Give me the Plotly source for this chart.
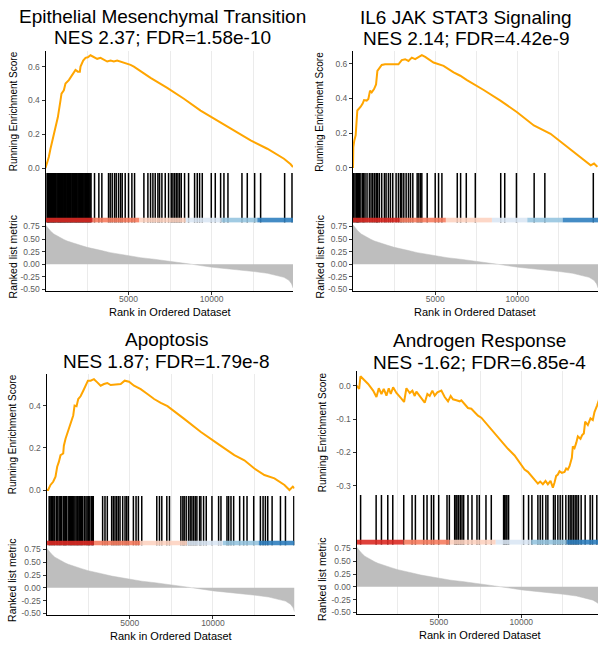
import plotly.graph_objects as go

W, H = 598, 649

titles_line1 = ["Epithelial Mesenchymal Transition", "IL6 JAK STAT3 Signaling",
                "Apoptosis", "Androgen Response"]
titles_line2 = ["NES 2.37; FDR=1.58e-10", "NES 2.14; FDR=4.42e-9",
                "NES 1.87; FDR=1.79e-8", "NES -1.62; FDR=6.85e-4"]

# ranked list metric (shared by all panels)
metric_rank = [1, 161, 301, 502, 703, 904, 1105, 1305, 1707, 2109, 2510, 2912, 3313, 3916,
               4518, 5020, 5723, 6526, 7530, 8434, 8936, 10040, 11345, 12550, 13353, 13956,
               14357, 14658, 14819, 14900]
metric_value = [0.78, 0.71, 0.66, 0.60, 0.56, 0.52, 0.49, 0.46, 0.41, 0.375, 0.335, 0.30, 0.276,
                0.23, 0.197, 0.164, 0.13, 0.10, 0.06, 0.02, -0.007, -0.06, -0.10, -0.145, -0.18,
                -0.22, -0.26, -0.32, -0.39, -0.47]

# running enrichment scores
es_emt_rank = [1, 201, 301, 402, 502, 602, 743, 904, 964, 1105, 1205, 1406, 1606, 1807, 1948, 2068,
               2109, 2270, 2410, 2550, 2711, 2912, 3112, 3313, 3514, 3715, 3916, 4116, 4317, 4518,
               4719, 4920, 5120, 5321, 5522, 6325, 7329, 8333, 9337, 10341, 11345, 12349, 13353,
               14357, 14759, 14900]
es_emt_score = [0.0, 0.065, 0.114, 0.154, 0.193, 0.232, 0.30, 0.40, 0.44, 0.46, 0.50, 0.52, 0.55,
                0.58, 0.57, 0.57, 0.60, 0.636, 0.652, 0.655, 0.667, 0.655, 0.646, 0.652, 0.64, 0.63,
                0.636, 0.63, 0.636, 0.63, 0.62, 0.616, 0.61, 0.60, 0.587, 0.533, 0.474, 0.41, 0.34,
                0.28, 0.22, 0.163, 0.114, 0.055, 0.022, 0.006]

es_il6_rank = [1, 20, 81, 163, 264, 386, 468, 589, 671, 833, 935, 1037, 1138, 1281, 1403, 1484,
               1606, 1748, 1951, 2256, 2561, 2764, 2967, 3171, 3374, 3577, 3781, 3984, 4187, 4390,
               4594, 4899, 5509, 6118, 6525, 6932, 7948, 8965, 9981, 10998, 12014, 13031, 14047,
               14454, 14657, 14860]
es_il6_score = [0.0, 0.12, 0.158, 0.187, 0.33, 0.34, 0.352, 0.37, 0.39, 0.387, 0.396, 0.444, 0.434,
                0.453, 0.48, 0.558, 0.577, 0.592, 0.596, 0.596, 0.592, 0.596, 0.62, 0.625, 0.615,
                0.634, 0.625, 0.638, 0.648, 0.638, 0.625, 0.606, 0.587, 0.549, 0.53, 0.505, 0.448,
                0.387, 0.32, 0.244, 0.196, 0.12, 0.044, 0.015, 0.025, 0.006]

es_apo_rank = [1, 100, 241, 402, 542, 643, 743, 843, 1004, 1044, 1145, 1245, 1406, 1506, 1606, 1687,
               1807, 1908, 2048, 2209, 2349, 2490, 2651, 2851, 3052, 3253, 3454, 3655, 3855, 4157,
               4458, 4699, 4960, 5261, 5662, 6064, 6466, 6867, 7269, 8273, 9277, 10281, 11285,
               11888, 12490, 13092, 13695, 14297, 14598, 14799, 14900]
es_apo_score = [0.0, 0.0, 0.024, 0.039, 0.063, 0.11, 0.133, 0.165, 0.173, 0.21, 0.243, 0.267, 0.306,
                0.337, 0.353, 0.40, 0.397, 0.431, 0.444, 0.47, 0.494, 0.518, 0.518, 0.525, 0.51,
                0.494, 0.502, 0.507, 0.497, 0.499, 0.502, 0.518, 0.513, 0.494, 0.478, 0.455, 0.431,
                0.413, 0.397, 0.337, 0.275, 0.22, 0.165, 0.141, 0.102, 0.071, 0.055, 0.024, 0.0,
                0.016, 0.008]

es_and_rank = [1, 101, 161, 242, 404, 707, 1010, 1212, 1353, 1515, 1656, 1818, 1959, 2080, 2222,
               2424, 2727, 2888, 3030, 3232, 3393, 3535, 3636, 3777, 3939, 4141, 4302, 4444, 4605,
               4747, 4909, 5151, 5353, 5555, 5716, 5858, 6060, 6262, 6363, 6565, 6767, 6969, 7171,
               7373, 7575, 7777, 8080, 8383, 8787, 9191, 9595, 9999, 10201, 10403, 10605, 10807,
               11009, 11150, 11312, 11474, 11615, 11777, 11918, 12019, 12120, 12221, 12322, 12464,
               12625, 12726, 12827, 12928, 13070, 13130, 13231, 13332, 13433, 13595, 13696, 13797,
               13878, 14039, 14201, 14342, 14443, 14605, 14706, 14900]
es_and_score = [0.0, -0.005, -0.01, 0.028, 0.02, 0.005, -0.015, -0.034, -0.008, -0.025, -0.01, -0.03,
                -0.008, -0.025, -0.005, -0.022, -0.039, -0.049, -0.008, -0.022, -0.015, -0.031,
                -0.018, -0.028, -0.039, -0.051, -0.025, -0.031, -0.015, -0.03, -0.02, -0.015,
                -0.034, -0.047, -0.031, -0.041, -0.044, -0.047, -0.044, -0.057, -0.067, -0.069,
                -0.079, -0.09, -0.096, -0.108, -0.126, -0.143, -0.165, -0.189, -0.209, -0.236,
                -0.251, -0.258, -0.27, -0.28, -0.293, -0.287, -0.295, -0.285, -0.295, -0.285,
                -0.305, -0.29, -0.27, -0.266, -0.256, -0.261, -0.258, -0.248, -0.251, -0.241,
                -0.216, -0.182, -0.187, -0.172, -0.152, -0.159, -0.148, -0.143, -0.108, -0.118,
                -0.098, -0.103, -0.079, -0.059, -0.044, 0.0]

# gene-set hit positions
hits_emt = [95, 135, 170, 210, 245, 292, 338, 377, 430, 462, 505, 548, 596, 641, 702, 748, 795,
            833, 884, 921, 968, 1012, 1063, 1108, 1152, 1199, 1247, 1303, 1342, 1398, 1447, 1503,
            1538, 1594, 1642, 1703, 1757, 1812, 1858, 1907, 1963, 2008, 2061, 2113, 2162, 2218,
            2263, 2312, 2368, 2421, 2473, 2527, 2583, 2631, 2688, 2742,
            2952, 3213, 3394, 3795, 3896, 4016, 4157, 4257, 4398, 4518, 4619, 4799, 5000, 5201,
            5362, 5924, 6165, 6325, 6466, 6606, 6767, 6867, 7008, 7209, 7410, 7570, 7670, 7771,
            7871, 7972, 8072, 8173, 8373, 8614, 8976, 9136, 9277, 9438, 9980, 10221, 10542,
            10743, 10984, 11827, 12148, 12590, 12951, 14397, 14839]
hits_il6 = [41, 122, 200, 250, 285, 330, 386, 480, 589, 650, 732, 854, 996, 1098, 1200, 1301,
            1403, 1450, 1504, 1606, 1748, 1911, 2012, 2155, 2277, 2419, 2622, 2764, 2886, 2968,
            3090, 3232, 3374, 3496, 3639, 3903, 4004, 4106, 4187, 4513, 5000, 5204, 5407, 6342,
            6545, 6890, 7439, 8984, 9228, 9940, 11017, 11668, 14615]
hits_apo = [161, 220, 301, 360, 442, 500, 602, 680, 763, 830, 904, 1004, 1050, 1104, 1150, 1205,
            1305, 1380, 1446, 1500, 1566, 1640, 1707, 1780, 1847, 1900, 1968, 2048, 2100, 2169,
            2269, 2369, 2440, 2510, 2560, 2610, 2711, 2760, 2811,
            3373, 3514, 3655, 3916, 4016, 4116, 4217, 4317, 4418, 4578, 4719, 4819, 4920, 5221,
            5381, 5522, 5723, 6626, 6787, 6928, 7229, 7389, 8072, 8193, 8273, 8393, 8534, 8634,
            8735, 8835, 8936, 9036, 9197, 9277, 9438, 9598, 9940, 10341, 10482, 10843, 10944,
            11084, 11245, 11606, 11847, 12048, 12450, 12851, 13012, 13152, 13293, 13554, 14056,
            14357, 14859]
hits_and = [250, 1192, 1515, 1899, 2202, 2868, 3373, 3575, 4080, 4282, 4545, 4686, 4989, 5494,
            5636, 5959, 6040, 6100, 6201, 6302, 6403, 6504, 6767, 7009, 7312, 7454, 7858, 8181,
            8929, 8989, 9070, 9130, 9231, 10140, 10443, 10645, 11009, 11150, 11292, 11494, 11615,
            11958, 12059, 12221, 12362, 12504, 12706, 12867, 12968, 13070, 13171, 13272, 13373,
            13474, 13635, 13878, 14180, 14322, 14585]

# colour strip segments
strip_start = [1, 2850, 5650, 8450, 10600, 12750]
strip_end = [2850, 5650, 8450, 10600, 12750, 14900]
strip_colors = ['#DB2B25', '#F67D60', '#FDD3C1', '#DAE7F4', '#97C5E0', '#3080BF']

# ticks
es_tickvals = [[0, 0.2, 0.4, 0.6], [0, 0.2, 0.4, 0.6], [0, 0.2, 0.4], [-0.3, -0.2, -0.1, 0]]
es_ticktext = [["0.0", "0.2", "0.4", "0.6"], ["0.0", "0.2", "0.4", "0.6"], ["0.0", "0.2", "0.4"],
               ["-0.3", "-0.2", "-0.1", "0.0"]]
metric_tickvals = [-0.5, -0.25, 0, 0.25, 0.5, 0.75]
metric_ticktext = ["-0.50", "-0.25", "0.00", "0.25", "0.50", "0.75"]
x_tickvals = [5000, 10000]
x_ticktext = ["5000", "10000"]
grid_vals = [2500, 5000, 7500, 10000, 12500]
minor_vals = [2500, 7500, 12500]

es_data = [(es_emt_rank, es_emt_score), (es_il6_rank, es_il6_score),
           (es_apo_rank, es_apo_score), (es_and_rank, es_and_score)]
hits_data = [hits_emt, hits_il6, hits_apo, hits_and]

# layout geometry in pixels
panels = [
    dict(x0=45.5, x1=293, es=(50, 173), bars=(173, 223), met=(223, 292), xr=[1, 14900],
         esr=[-0.029, 0.694], title=(162, 16.0, 37.0), esl=(13.5, 111.5), mtl=(12.5, 257.5),
         xtl=(170, 313)),
    dict(x0=353, x1=598, es=(50, 173), bars=(173, 223), met=(223, 292), xr=[1, 14900],
         esr=[-0.029, 0.674], title=(466, 17.0, 38.0), esl=(320, 111.5), mtl=(319.5, 257.5),
         xtl=(475, 312.5)),
    dict(x0=46.5, x1=294.5, es=(375, 498), bars=(498, 548), met=(548, 618), xr=[1, 14900],
         esr=[-0.028, 0.551], title=(166, 340.5, 362.5), esl=(12.5, 436.5), mtl=(12.5, 583),
         xtl=(171, 639)),
    dict(x0=356.5, x1=598, es=(372, 497), bars=(497, 547), met=(547, 617), xr=[1, 14657],
         esr=[-0.327, 0.0446], title=(479, 342, 364), esl=(322.5, 434.5), mtl=(322.5, 582),
         xtl=(480, 638)),
]

FONT = "Liberation Sans, Arial, Helvetica, sans-serif"
GRID = '#EBEBEB'


def X(px):
    return px / W


def Y(py):
    return 1 - py / H


def axname(prefix, n):
    return prefix + ("axis" if n == 1 else f"axis{n}")


def ref(prefix, n):
    return prefix if n == 1 else f"{prefix}{n}"


fig = go.Figure()
layout_axes = {}
annotations = []
tickfont = dict(size=8.5, color='#5C5C5C', family=FONT)

for i, p in enumerate(panels):
    n_es, n_bar, n_met = 3 * i + 1, 3 * i + 2, 3 * i + 3
    xd = [X(p['x0']), X(p['x1'])]

    # ES panel
    layout_axes[axname('x', n_es)] = dict(
        domain=xd, range=p['xr'], anchor=ref('y', n_es), showticklabels=False, ticks='',
        showline=False, showgrid=True, gridcolor=GRID, gridwidth=1, tickmode='array',
        tickvals=grid_vals, zeroline=False)
    layout_axes[axname('y', n_es)] = dict(
        domain=[Y(p['es'][1]), Y(p['es'][0])], range=p['esr'], anchor=ref('x', n_es),
        showline=True, linecolor='black', linewidth=1, ticks='outside', ticklen=3, tickwidth=1,
        tickcolor='#333333', tickmode='array', tickvals=es_tickvals[i], ticktext=es_ticktext[i],
        tickfont=tickfont, showgrid=False, zeroline=False)

    # bars panel
    layout_axes[axname('x', n_bar)] = dict(
        domain=xd, range=p['xr'], anchor=ref('y', n_bar), showticklabels=False, ticks='',
        showline=False, showgrid=True, gridcolor=GRID, gridwidth=1, tickmode='array',
        tickvals=grid_vals, zeroline=False)
    layout_axes[axname('y', n_bar)] = dict(
        domain=[Y(p['bars'][1]), Y(p['bars'][0])], range=[0, 1], anchor=ref('x', n_bar),
        showline=True, linecolor='black', linewidth=1, ticks='', showticklabels=False,
        showgrid=False, zeroline=False)

    # metric panel
    layout_axes[axname('x', n_met)] = dict(
        domain=xd, range=p['xr'], anchor=ref('y', n_met), showline=True, linecolor='black',
        linewidth=1, ticks='outside', ticklen=3, tickwidth=1, tickcolor='#333333',
        tickmode='array', tickvals=x_tickvals, ticktext=x_ticktext, tickfont=tickfont,
        ticklabelstandoff=-3,
        showgrid=True, gridcolor=GRID, gridwidth=1, zeroline=False,
        minor=dict(tickmode='array', tickvals=minor_vals, showgrid=True, gridcolor=GRID,
                   gridwidth=1, ticks=''))
    layout_axes[axname('y', n_met)] = dict(
        domain=[Y(p['met'][1]), Y(p['met'][0])], range=[-0.535, 0.825], anchor=ref('x', n_met),
        showline=True, linecolor='black', linewidth=1, ticks='outside', ticklen=3, tickwidth=1,
        tickcolor='#333333', tickmode='array', tickvals=metric_tickvals,
        ticktext=metric_ticktext, tickfont=tickfont, showgrid=False, zeroline=False)

    # traces
    rk, sc = es_data[i]
    fig.add_trace(go.Scatter(x=rk, y=sc, mode='lines', line=dict(color='#FFA500', width=2),
                             xaxis=ref('x', n_es), yaxis=ref('y', n_es), hoverinfo='skip',
                             showlegend=False))

    bx, by = [], []
    for h in hits_data[i]:
        bx += [h, h, None]
        by += [0, 1, None]
    fig.add_trace(go.Scatter(x=bx, y=by, mode='lines', line=dict(color='black', width=1.5),
                             xaxis=ref('x', n_bar), yaxis=ref('y', n_bar), hoverinfo='skip',
                             showlegend=False))
    for a, b, c in zip(strip_start, strip_end, strip_colors):
        fig.add_trace(go.Scatter(x=[a, b, b, a, a], y=[0, 0, 0.1, 0.1, 0], mode='lines',
                                 fill='toself', fillcolor=c, line=dict(width=0, color=c),
                                 opacity=0.9, xaxis=ref('x', n_bar), yaxis=ref('y', n_bar),
                                 hoverinfo='skip', showlegend=False))

    fig.add_trace(go.Scatter(x=metric_rank, y=metric_value, mode='lines', fill='tozeroy',
                             fillcolor='#BEBEBE', line=dict(color='#BEBEBE', width=0.5),
                             xaxis=ref('x', n_met), yaxis=ref('y', n_met), hoverinfo='skip',
                             showlegend=False))

    # text
    tx, ty1, ty2 = p['title']
    for txt, ty in ((titles_line1[i], ty1), (titles_line2[i], ty2)):
        annotations.append(dict(text=txt, x=X(tx), y=Y(ty), xref='paper', yref='paper',
                                xanchor='center', yanchor='middle', showarrow=False,
                                font=dict(size=19, color='black', family=FONT)))
    annotations.append(dict(text="Running Enrichment Score", x=X(p['esl'][0]), y=Y(p['esl'][1]),
                            xref='paper', yref='paper', xanchor='center', yanchor='middle',
                            textangle=-90, showarrow=False,
                            font=dict(size=10, color='black', family=FONT)))
    annotations.append(dict(text="Ranked list metric", x=X(p['mtl'][0]), y=Y(p['mtl'][1]),
                            xref='paper', yref='paper', xanchor='center', yanchor='middle',
                            textangle=-90, showarrow=False,
                            font=dict(size=10.5, color='black', family=FONT)))
    annotations.append(dict(text="Rank in Ordered Dataset", x=X(p['xtl'][0]), y=Y(p['xtl'][1]),
                            xref='paper', yref='paper', xanchor='center', yanchor='middle',
                            showarrow=False, font=dict(size=11, color='black', family=FONT)))

fig.update_layout(width=W, height=H, autosize=False, margin=dict(l=0, r=0, t=0, b=0, pad=0),
                  paper_bgcolor='white', plot_bgcolor='white', showlegend=False,
                  annotations=annotations, font=dict(family=FONT), **layout_axes)

fig.write_html("out.html")
